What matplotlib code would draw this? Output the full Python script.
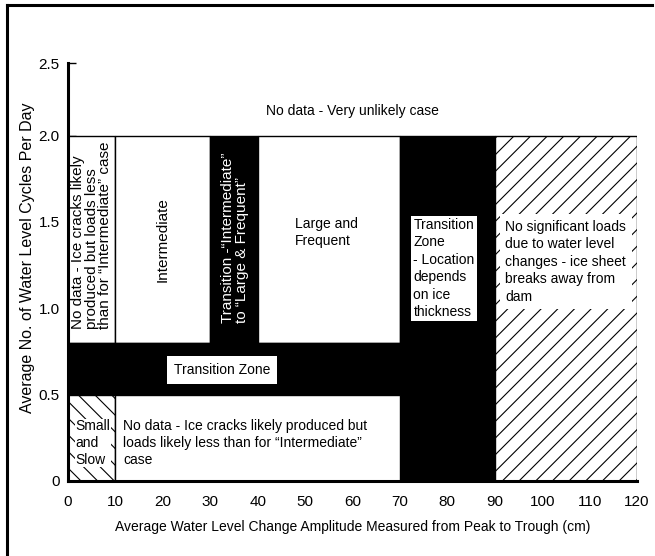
import numpy as np
import matplotlib
matplotlib.use('Agg')
import matplotlib.pyplot as plt
from matplotlib.patches import Rectangle
from matplotlib.lines import Line2D

plt.rcParams['font.family'] = ['Liberation Sans', 'DejaVu Sans']
plt.rcParams['hatch.linewidth'] = 0.8

# zone boundaries (x in cm, y in cycles/day)
zone_x0 = [0, 10, 30, 40, 70, 90, 0, 0, 10]
zone_x1 = [10, 30, 40, 70, 90, 120, 70, 10, 70]
zone_y0 = [0.8, 0.8, 0.8, 0.8, 0, 0, 0.5, 0, 0]
zone_y1 = [2.0, 2.0, 2.0, 2.0, 2.0, 2.0, 0.8, 0.5, 0.5]
zone_kind = ['open', 'open', 'transition', 'open', 'transition',
             'no_load', 'transition', 'small', 'open']

x_ticks = [0, 10, 20, 30, 40, 50, 60, 70, 80, 90, 100, 110, 120]
y_ticks = [0, 0.5, 1.0, 1.5, 2.0, 2.5]
y_tick_labels = ['0', '0.5', '1.0', '1.5', '2.0', '2.5']

styles = {
    'open': dict(facecolor='white', edgecolor='black', linewidth=1.0),
    'transition': dict(facecolor='black', edgecolor='black', linewidth=1.0),
    'no_load': dict(facecolor='white', edgecolor='black', linewidth=1.0, hatch='//'),
    'small': dict(facecolor='white', edgecolor='black', linewidth=1.0, hatch='\\\\'),
}

# the band above 2.0 is drawn compressed in the original figure
k = 0.84
def fwd(y):
    y = np.asarray(y, dtype=float)
    return np.where(y <= 2, y, 2 + (y - 2) * k)
def inv(t):
    t = np.asarray(t, dtype=float)
    return np.where(t <= 2, t, 2 + (t - 2) / k)

fig = plt.figure(figsize=(6.55, 5.56), dpi=100)
ax = fig.add_axes([68 / 655, 75 / 556, 569 / 655, 418 / 556])
ax.set_yscale('function', functions=(fwd, inv))
ax.set_xlim(0, 120)
ax.set_ylim(0, 2.5)
ax.set_axisbelow(True)

for x0, x1, y0, y1, kind in zip(zone_x0, zone_x1, zone_y0, zone_y1, zone_kind):
    ax.add_patch(Rectangle((x0, y0), x1 - x0, y1 - y0, zorder=1, **styles[kind]))

fs = 10    # horizontal notes
fsr = 11   # rotated notes
ls = 1.32

ax.text(60, 2.17, 'No data - Very unlikely case', ha='center', va='center', fontsize=fs)
ax.text(5, 1.42, 'No data - Ice cracks likely\nproduced but loads less\nthan for \u201cIntermediate\u201d case',
        ha='center', va='center', rotation=90, fontsize=fsr, linespacing=0.95,
        multialignment='left')
ax.text(20, 1.4, 'Intermediate', ha='center', va='center', rotation=90, fontsize=fsr)
ax.text(35.2, 1.41, 'Transition -\u201cIntermediate\u201d\nto \u201cLarge & Frequent\u201d',
        ha='center', va='center', rotation=90, fontsize=fsr, color='white',
        multialignment='left', linespacing=1.0)
ax.text(54.5, 1.44, 'Large and\nFrequent', ha='center', va='center', fontsize=fs,
        multialignment='left', linespacing=ls)
ax.text(79.3, 1.23, 'Transition\nZone\n- Location\ndepends\non ice\nthickness',
        ha='center', va='center', fontsize=fs, multialignment='left', linespacing=ls,
        bbox=dict(facecolor='white', edgecolor='none', pad=1.5))
ax.text(105, 1.27, 'No significant loads\ndue to water level\nchanges - ice sheet\nbreaks away from\ndam',
        ha='center', va='center', fontsize=fs, multialignment='left', linespacing=ls,
        bbox=dict(facecolor='white', edgecolor='none', pad=4))
ax.text(32.5, 0.645, 'Transition Zone', ha='center', va='center', fontsize=fs,
        bbox=dict(facecolor='white', edgecolor='none', pad=5))
ax.text(5.3, 0.22, 'Small\nand\nSlow', ha='center', va='center', fontsize=fs,
        multialignment='left', linespacing=1.25,
        bbox=dict(facecolor='white', edgecolor='none', pad=0.5))
ax.text(11.6, 0.22, 'No data - Ice cracks likely produced but\nloads likely less than for \u201cIntermediate\u201d\ncase',
        ha='left', va='center', fontsize=fs, linespacing=1.25)

ax.set_xticks(x_ticks)
ax.set_yticks(y_ticks)
ax.set_yticklabels(y_tick_labels)
ax.tick_params(axis='x', length=0, pad=10, labelsize=11)
ax.tick_params(axis='y', direction='in', length=6, width=1, pad=6, labelsize=11)
ax.minorticks_off()

ax.spines['top'].set_visible(False)
ax.spines['right'].set_visible(False)
ax.spines['left'].set_linewidth(2.2)
ax.spines['bottom'].set_linewidth(2.2)

ax.set_xlabel('Average Water Level Change Amplitude Measured from Peak to Trough (cm)',
              fontsize=10, labelpad=8)
ax.set_ylabel('Average No. of Water Level Cycles Per Day', fontsize=11.5)
ax.yaxis.set_label_coords(-0.058, 0.533)

# frame lines of the original page
fig.add_artist(Line2D([7 / 655, 652 / 655], [551 / 556, 551 / 556], color='black', lw=2.2))
fig.add_artist(Line2D([7 / 655, 7 / 655], [0, 551 / 556], color='black', lw=2.2))

fig.savefig('out.png', dpi=100)
